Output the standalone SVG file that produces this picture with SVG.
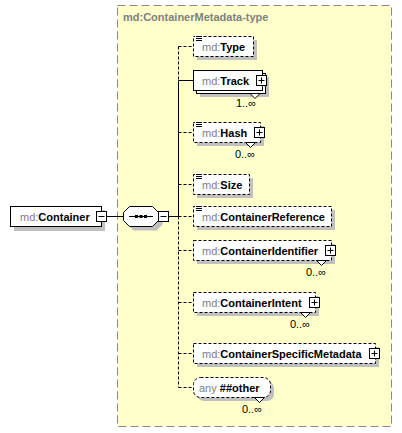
<svg xmlns="http://www.w3.org/2000/svg" width="402" height="433" viewBox="0 0 402 433">
<style>
text{font-family:"Liberation Sans",Arial,sans-serif;font-size:11px}
.ns{fill:#808080}
.nm{fill:#000;font-weight:bold}
.occ{fill:#000}
.box{fill:#fff;stroke:#000;stroke-width:1}
.opt{stroke-dasharray:3,2}
.sh{fill:#c0c0c0}
.ln{stroke:#000;stroke-width:1;fill:none}
.dl{stroke-dasharray:3,2}
.btn{fill:#fff;stroke:#000;stroke-width:1}
.title{fill:#808080;font-weight:bold}
</style>
<defs>
<g id="plus"><rect class="btn" x="0" y="0" width="10" height="10"/><path class="ln" d="M2,5H8M5,2V8"/></g>
<g id="minus"><rect class="btn" x="0" y="0" width="10" height="10"/><path class="ln" d="M2,5H8"/></g>
<g id="icon"><rect x="-1" y="-1" width="8" height="6" fill="#fff"/><path class="ln" d="M0,0.5H6M0,2.5H6M0,4.5H6"/></g>
</defs>
<g id="complexType">
<rect x="117.5" y="5.5" width="274" height="421" fill="#ffffcc" stroke="#888" stroke-dasharray="8,4"/>
<text class="title" x="123" y="21">md:ContainerMetadata-type</text>
</g>
<g id="connectors">
<path class="ln" d="M106.5,216.5H124M168.5,216.5H178.5"/>
<path class="ln dl" d="M178.5,46.5V80.5"/>
<path class="ln" d="M178.5,80.5V216.5"/>
<path class="ln dl" d="M178.5,216.5V387.5"/>
<path class="ln dl" d="M178.5,46.5H193"/>
<path class="ln" d="M178.5,80.5H193"/>
<path class="ln dl" d="M178.5,132.5H193M178.5,184.5H193M178.5,216.5H193M178.5,250.5H193M178.5,302.5H193M178.5,353.5H193M178.5,387.5H193"/>
</g>
<g id="Container">
<rect class="sh" x="14" y="210" width="91" height="21"/>
<rect class="box" x="10.5" y="206.5" width="91" height="20"/>
<text x="20" y="220.5"><tspan class="ns">md:</tspan><tspan class="nm">Container</tspan></text>
<use href="#minus" x="96.5" y="211.5"/>
</g>
<g id="sequence">
<polygon class="sh" points="133.5,210.5 156.5,210.5 162.5,216.5 162.5,224.5 156.5,230.5 133.5,230.5 127.5,224.5 127.5,216.5"/>
<polygon class="box" points="129.5,206.5 152.5,206.5 158.5,212.5 158.5,220.5 152.5,226.5 129.5,226.5 123.5,220.5 123.5,212.5"/>
<path class="ln" d="M129,216.5H153"/>
<rect x="135" y="215" width="3" height="3" fill="#000"/>
<rect x="139.5" y="215" width="3" height="3" fill="#000"/>
<rect x="144" y="215" width="3" height="3" fill="#000"/>
<use href="#minus" x="158.5" y="211.5"/>
</g>
<g id="Type">
<rect class="sh" x="197" y="40" width="60" height="20"/>
<rect class="box opt" x="193.5" y="36.5" width="60" height="20"/>
<use href="#icon" x="196" y="36"/>
<text x="202" y="50.5"><tspan class="ns">md:</tspan><tspan class="nm">Type</tspan></text>
</g>
<g id="Track">
<rect class="sh" x="200" y="77" width="69" height="20"/>
<rect class="box" x="196.5" y="73.5" width="69" height="20"/>
<polygon class="box" points="250,93.5 255,98.5 260,93.5"/>
<rect class="box" x="193.5" y="70.5" width="69" height="20"/>
<text x="202" y="84.5"><tspan class="ns">md:</tspan><tspan class="nm">Track</tspan></text>
<use href="#plus" x="256.5" y="75.5"/>
<text class="occ" x="256" y="107" text-anchor="end">1..∞</text>
</g>
<g id="Hash">
<rect class="sh" x="197" y="126" width="67" height="20"/>
<rect class="box opt" x="193.5" y="122.5" width="67" height="20"/>
<polygon class="box" points="245.5,142.5 250.5,147.5 255.5,142.5"/>
<use href="#icon" x="196" y="122"/>
<text x="202" y="136.5"><tspan class="ns">md:</tspan><tspan class="nm">Hash</tspan></text>
<use href="#plus" x="254.5" y="127.5"/>
<text class="occ" x="255" y="158" text-anchor="end">0..∞</text>
</g>
<g id="Size">
<rect class="sh" x="197" y="178" width="56" height="20"/>
<rect class="box opt" x="193.5" y="174.5" width="56" height="20"/>
<use href="#icon" x="196" y="174"/>
<text x="202" y="188.5"><tspan class="ns">md:</tspan><tspan class="nm">Size</tspan></text>
</g>
<g id="ContainerReference">
<rect class="sh" x="197" y="210" width="138" height="20"/>
<rect class="box opt" x="193.5" y="206.5" width="138" height="20"/>
<use href="#icon" x="196" y="206"/>
<text x="202" y="220.5"><tspan class="ns">md:</tspan><tspan class="nm">ContainerReference</tspan></text>
</g>
<g id="ContainerIdentifier">
<rect class="sh" x="197" y="244" width="138" height="20"/>
<rect class="box opt" x="193.5" y="240.5" width="138" height="20"/>
<polygon class="box" points="316.5,260.5 321.5,265.5 326.5,260.5"/>
<text x="202" y="254.5"><tspan class="ns">md:</tspan><tspan class="nm">ContainerIdentifier</tspan></text>
<use href="#plus" x="325.5" y="245.5"/>
<text class="occ" x="326" y="276" text-anchor="end">0..∞</text>
</g>
<g id="ContainerIntent">
<rect class="sh" x="197" y="296" width="122" height="20"/>
<rect class="box opt" x="193.5" y="292.5" width="122" height="20"/>
<polygon class="box" points="300.5,312.5 305.5,317.5 310.5,312.5"/>
<text x="202" y="306.5"><tspan class="ns">md:</tspan><tspan class="nm">ContainerIntent</tspan></text>
<use href="#plus" x="309.5" y="297.5"/>
<text class="occ" x="310" y="328" text-anchor="end">0..∞</text>
</g>
<g id="ContainerSpecificMetadata">
<rect class="sh" x="197" y="347" width="182" height="20"/>
<rect class="box opt" x="193.5" y="343.5" width="182" height="20"/>
<text x="202" y="357.5"><tspan class="ns">md:</tspan><tspan class="nm">ContainerSpecificMetadata</tspan></text>
<use href="#plus" x="369.5" y="348.5"/>
</g>
<g id="any">
<rect class="sh" x="197" y="381" width="77" height="20" rx="7"/>
<rect class="box opt" x="193.5" y="377.5" width="77" height="20" rx="7"/>
<polygon class="box" points="254.5,397.5 259.5,402.5 264.5,397.5"/>
<text x="199" y="391.5"><tspan class="ns">any </tspan><tspan class="nm">##other</tspan></text>
<text class="occ" x="262" y="413" text-anchor="end">0..∞</text>
</g>
</svg>
